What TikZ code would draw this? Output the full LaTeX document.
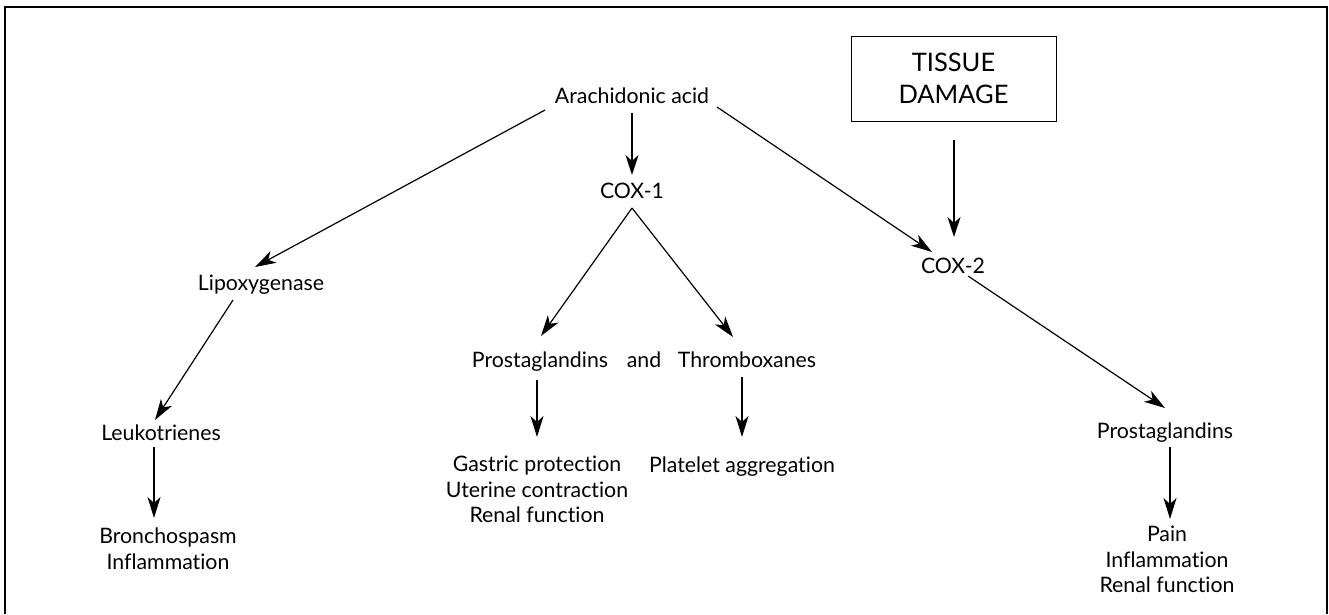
\documentclass[tikz,border=0pt]{standalone}
\usepackage{fontspec}
\setmainfont{Lato}[Ligatures={NoCommon}]
\usetikzlibrary{arrows.meta,calc}
\begin{document}
\begin{tikzpicture}[x=1pt,y=-1pt,
  lbl/.style={inner sep=0pt,anchor=base,font=\fontsize{21.3}{25.5}\selectfont},
  mlbl/.style={inner sep=0pt,anchor=north,align=center,font=\fontsize{21.3}{25.5}\selectfont},
  arr/.style={line width=1.2pt,-{Stealth[length=21pt,width=13pt,inset=6pt]}},
  thickarr/.style={line width=2.4pt,-{Stealth[length=20pt,width=13pt,inset=6pt]}},
  dmgbox/.style={draw,line width=0.9pt,minimum width=205pt,minimum height=85pt,align=center,inner sep=0pt,font=\fontsize{25.5}{32}\selectfont}]
\useasboundingbox (0,0) rectangle (1329,614);
\draw[line width=2pt] (5,614) -- (5,7) -- (1327,7) -- (1327,614);
% nodes
\node[lbl] (aa) at (632,103) {Arachidonic acid};
\node[lbl] (cox1) at (632,198) {COX-1};
\node[dmgbox] (td) at (953.5,78.5) {TISSUE\\DAMAGE};
\node[lbl] (cox2) at (953,273) {COX-2};
\node[lbl] (lipo) at (261,290) {Lipoxygenase};
\node[lbl] (leuko) at (161,440) {Leukotrienes};
\node[mlbl] (broncho) at (168,528) {Bronchospasm\\Inflammation};
\node[lbl] (prost) at (540,367) {Prostaglandins};
\node[lbl] (and) at (644,367) {and};
\node[lbl] (thromb) at (747,367) {Thromboxanes};
\node[mlbl] (gastric) at (537,456) {Gastric protection\\Uterine contraction\\Renal function};
\node[lbl] (platelet) at (742,472) {Platelet aggregation};
\node[lbl] (prost2) at (1165,438) {Prostaglandins};
\node[mlbl] (pain) at (1167,526) {Pain\\Inflammation\\Renal function};
% connectors
\draw[thickarr] ($(aa.base)+(0,10)$) -- ($(cox1.base)+(0,-23)$);
\draw[arr] ($(aa.base)+(-87,7)$) -- ($(lipo.base)+(-6,-23)$);
\draw[arr] ($(aa.base)+(85,4)$) -- ($(cox2.base)+(-21,-21)$);
\draw[thickarr] ($(td.south)+(0.5,19)$) -- ($(cox2.base)+(1,-36)$);
\draw[arr] ($(lipo.base)+(-28,10)$) -- ($(leuko.base)+(-6,-20)$);
\draw[arr] ($(leuko.base)+(-7,7)$) -- ($(broncho.north)+(-14,-10)$);
\draw[arr] ($(cox1.base)+(0,10)$) -- ($(prost.base)+(1,-31)$);
\draw[arr] ($(cox1.base)+(0,10)$) -- ($(thromb.base)+(-14,-30)$);
\draw[arr] ($(prost.base)+(-3,13)$) -- ($(gastric.north)+(0,-19)$);
\draw[arr] ($(thromb.base)+(-5,10)$) -- ($(platelet.base)+(0,-35)$);
\draw[arr] ($(cox2.base)+(15,3)$) -- ($(prost2.base)+(0,-30)$);
\draw[arr] ($(prost2.base)+(5,9)$) -- ($(pain.north)+(3,-7)$);
\end{tikzpicture}
\end{document}
